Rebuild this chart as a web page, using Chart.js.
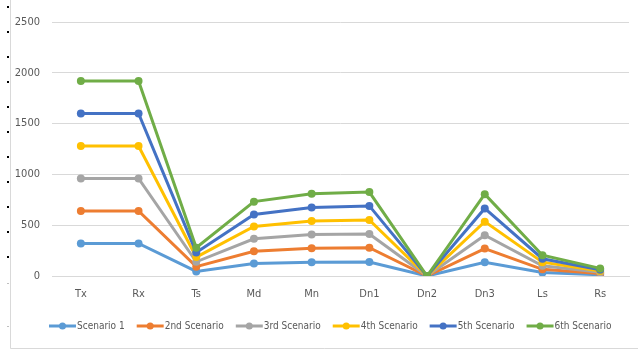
<!DOCTYPE html>
<html>
<head>
<meta charset="utf-8">
<script src="https://cdn.jsdelivr.net/npm/chart.js@4"></script>
<style>
  html, body { margin: 0; padding: 0; background: #fff; }
  #wrap { width: 638px; height: 351px; }
</style>
</head>
<body>
<div id="wrap"><canvas id="scenarioChart" width="638" height="351"></canvas></div>
<script>
const categories = ["Tx", "Rx", "Ts", "Md", "Mn", "Dn1", "Dn2", "Dn3", "Ls", "Rs"];
const yTicks = [0, 500, 1000, 1500, 2000, 2500];

const seriesNames = ["Scenario 1", "2nd Scenario", "3rd Scenario", "4th Scenario", "5th Scenario", "6th Scenario"];
const scenario1 = [320, 320, 45, 122, 136, 138, 0, 135, 34, 12];
const scenario2 = [640, 640, 92, 244, 272, 278, 0, 270, 66, 25];
const scenario3 = [960, 960, 140, 366, 408, 414, 0, 402, 100, 38];
const scenario4 = [1280, 1280, 186, 488, 542, 552, 0, 535, 136, 50];
const scenario5 = [1600, 1600, 232, 605, 675, 690, 0, 665, 170, 62];
const scenario6 = [1920, 1920, 278, 732, 810, 826, 0, 805, 205, 75];

const colors = ["#5B9BD5", "#ED7D31", "#A5A5A5", "#FFC000", "#4472C4", "#70AD47"];
const allSeries = [scenario1, scenario2, scenario3, scenario4, scenario5, scenario6];

const FONT = "'DejaVu Sans Condensed', 'Liberation Sans', sans-serif";
const TEXT_COLOR = "#595959";

const datasets = allSeries.map((values, i) => ({
  label: seriesNames[i],
  data: values,
  borderColor: colors[i],
  backgroundColor: colors[i],
  borderWidth: 3,
  pointRadius: 4,
  pointHoverRadius: 4,
  pointBackgroundColor: colors[i],
  pointBorderWidth: 0,
  tension: 0,
  order: allSeries.length - i, // 6th scenario ends up on top
}));

// Excel-like legend: short line with a dot, text right after it, one row
const legendPlugin = {
  id: "excelLegend",
  afterDraw(chart) {
    const ctx = chart.ctx;
    const y = 326;
    const lineW = 27;
    const gap = 12;
    ctx.save();
    ctx.font = "10px " + FONT;
    ctx.textBaseline = "middle";
    const items = chart.data.datasets.map((ds, i) => ({
      text: ds.label,
      color: colors[i],
      w: lineW + 1 + ctx.measureText(ds.label).width,
    }));
    let x = 49;
    items.forEach((it) => {
      ctx.strokeStyle = it.color;
      ctx.lineWidth = 3;
      ctx.beginPath();
      ctx.moveTo(x, y);
      ctx.lineTo(x + lineW, y);
      ctx.stroke();
      ctx.fillStyle = it.color;
      ctx.beginPath();
      ctx.arc(x + lineW / 2, y, 3.5, 0, Math.PI * 2);
      ctx.fill();
      ctx.fillStyle = TEXT_COLOR;
      ctx.fillText(it.text, x + lineW + 1, y);
      x += it.w + gap;
    });
    ctx.restore();
  },
};

// frame of the picture and the dotted mark on its left edge
const framePlugin = {
  id: "frame",
  beforeDraw(chart) {
    const ctx = chart.ctx;
    ctx.save();
    ctx.fillStyle = "#ffffff";
    ctx.fillRect(0, 0, chart.width, chart.height);
    ctx.restore();
  },
  afterDraw(chart) {
    const ctx = chart.ctx;
    ctx.save();
    ctx.strokeStyle = "#d9d9d9";
    ctx.lineWidth = 1;
    ctx.beginPath();
    ctx.moveTo(10.5, 0);
    ctx.lineTo(10.5, 348.5);
    ctx.lineTo(chart.width, 348.5);
    ctx.stroke();
    ctx.fillStyle = "#000000";
    for (let y = 6; y <= 256; y += 25) {
      ctx.fillRect(7, y, 2, 2);
    }
    ctx.fillStyle = "#bfbfbf";
    ctx.fillRect(7, 283, 2, 1);
    ctx.fillRect(7, 326, 2, 1);
    ctx.restore();
  },
};

const ctx = document.getElementById("scenarioChart").getContext("2d");

new Chart(ctx, {
  type: "line",
  data: {
    labels: categories,
    datasets,
  },
  options: {
    responsive: false,
    animation: false,
    events: [],
    layout: {
      padding: { left: 10, right: 9, top: 22, bottom: 48 },
    },
    plugins: {
      tooltip: { enabled: false },
      legend: { display: false },
    },
    scales: {
      x: {
        offset: true,
        grid: { display: false, drawTicks: false },
        border: { display: true, color: "#d9d9d9", width: 1 },
        ticks: {
          font: { family: FONT, size: 11 },
          color: TEXT_COLOR,
          padding: 12,
          maxRotation: 0,
        },
        afterFit: (scale) => {
          scale.height = 27;
        },
      },
      y: {
        min: yTicks[0],
        max: yTicks[yTicks.length - 1],
        grid: { color: "#d9d9d9", lineWidth: 1, drawTicks: false },
        border: { display: false },
        ticks: {
          stepSize: yTicks[1] - yTicks[0],
          font: { family: FONT, size: 11 },
          color: TEXT_COLOR,
          padding: 12,
          callback: (value) => String(value),
        },
        afterFit: (scale) => {
          scale.width = 42;
        },
      },
    },
  },
  plugins: [framePlugin, legendPlugin],
});
</script>
</body>
</html>
